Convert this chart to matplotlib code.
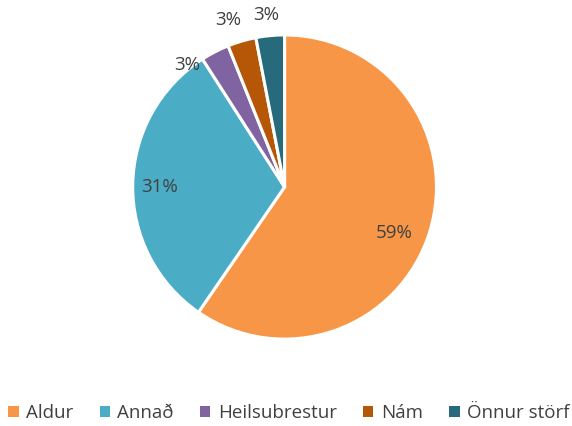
import matplotlib
matplotlib.use("Agg")
import matplotlib.pyplot as plt
from matplotlib.patches import Patch

categories = ["Aldur", "Annað", "Heilsubrestur", "Nám", "Önnur störf"]
shares = [59, 31, 3, 3, 3]
colors = ["#F79646", "#4BACC6", "#8064A2", "#B65708", "#276A7C"]

plt.rcParams["font.family"] = ["Open Sans", "DejaVu Sans"]
TXT = "#404040"

fig = plt.figure(figsize=(5.72, 4.26), dpi=100)
ax = fig.add_axes([0.232, 0.204, 0.531, 0.714])

wedges, texts, autotexts = ax.pie(
    shares, colors=colors, startangle=90, counterclock=False,
    autopct="%d%%", pctdistance=0.8, radius=1.0,
    wedgeprops=dict(edgecolor="white", linewidth=2.2),
    textprops=dict(color=TXT, fontsize=13.5))
ax.set_xlim(-1, 1)
ax.set_ylim(-1, 1)
ax.set_aspect("auto")

# nudge labels to where the original places them
label_pos = [(0.72, -0.30), (-0.82, 0.0), (-0.64, 0.80), (-0.37, 1.10), (-0.12, 1.13)]
for t, (x, y) in zip(autotexts, label_pos):
    t.set_position((x, y))
    t.set_ha("center")
    t.set_va("center")

handles = [Patch(facecolor=c, edgecolor="none") for c in colors]
fig.legend(handles, categories, loc="center", bbox_to_anchor=(0.505, 0.03),
           ncol=5, frameon=False, fontsize=13.5, handlelength=0.55,
           handleheight=0.55, handletextpad=0.4, columnspacing=1.4,
           labelcolor=TXT)

fig.savefig("out.png", dpi=100)
